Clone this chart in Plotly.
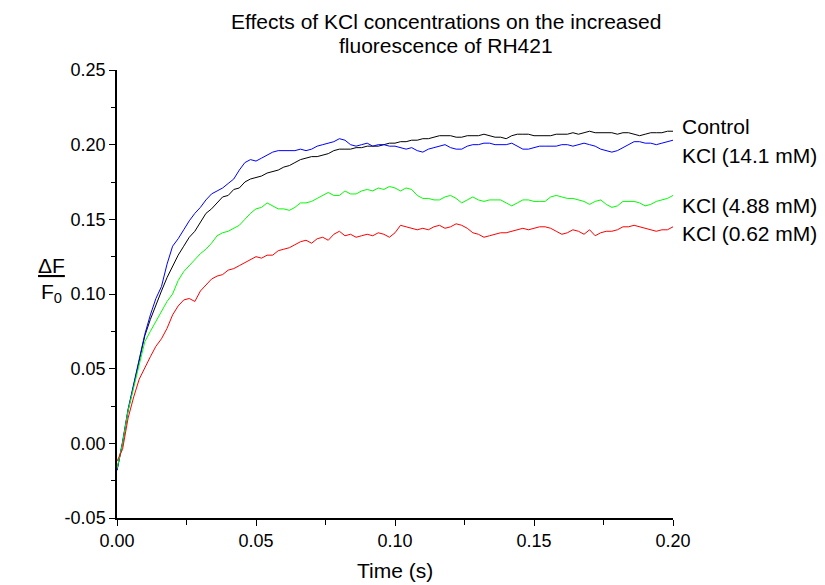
import plotly.graph_objects as go

# time axis (s)
time_s = [round(i * 0.002, 3) for i in range(101)]

control = [-0.018, 0.000, 0.022, 0.039, 0.056, 0.072, 0.083, 0.093, 0.102, 0.111,
           0.119, 0.126, 0.132, 0.138, 0.142, 0.148, 0.154, 0.157, 0.161, 0.165,
           0.166, 0.170, 0.171, 0.175, 0.177, 0.178, 0.179, 0.181, 0.182, 0.183,
           0.185, 0.186, 0.188, 0.190, 0.191, 0.192, 0.192, 0.193, 0.194, 0.196,
           0.197, 0.197, 0.197, 0.198, 0.198, 0.199, 0.199, 0.199, 0.200, 0.201,
           0.201, 0.202, 0.202, 0.203, 0.203, 0.204, 0.204, 0.205, 0.206, 0.206,
           0.206, 0.205, 0.205, 0.206, 0.206, 0.206, 0.207, 0.206, 0.205, 0.205,
           0.204, 0.206, 0.207, 0.207, 0.207, 0.206, 0.206, 0.206, 0.206, 0.207,
           0.207, 0.207, 0.208, 0.207, 0.208, 0.209, 0.208, 0.208, 0.208, 0.208,
           0.207, 0.208, 0.208, 0.207, 0.206, 0.207, 0.208, 0.208, 0.208, 0.209,
           0.209]

kcl_14_1 = [-0.018, 0.001, 0.023, 0.040, 0.057, 0.073, 0.086, 0.097, 0.105, 0.120,
            0.132, 0.137, 0.143, 0.149, 0.154, 0.158, 0.163, 0.167, 0.169, 0.171,
            0.174, 0.177, 0.183, 0.188, 0.190, 0.189, 0.191, 0.193, 0.195, 0.196,
            0.196, 0.196, 0.196, 0.197, 0.196, 0.197, 0.199, 0.200, 0.201, 0.202,
            0.204, 0.203, 0.200, 0.199, 0.200, 0.201, 0.199, 0.200, 0.200, 0.199,
            0.199, 0.198, 0.197, 0.198, 0.196, 0.195, 0.197, 0.198, 0.199, 0.200,
            0.198, 0.197, 0.197, 0.199, 0.200, 0.200, 0.201, 0.201, 0.200, 0.200,
            0.200, 0.201, 0.199, 0.197, 0.197, 0.198, 0.199, 0.199, 0.199, 0.199,
            0.200, 0.200, 0.199, 0.200, 0.201, 0.200, 0.199, 0.197, 0.196, 0.195,
            0.196, 0.198, 0.200, 0.202, 0.202, 0.201, 0.201, 0.200, 0.201, 0.202,
            0.203]

kcl_4_88 = [-0.017, 0.000, 0.022, 0.038, 0.054, 0.068, 0.075, 0.082, 0.088, 0.095,
            0.100, 0.109, 0.115, 0.119, 0.123, 0.127, 0.130, 0.134, 0.139, 0.141,
            0.142, 0.144, 0.146, 0.150, 0.154, 0.157, 0.158, 0.161, 0.159, 0.157,
            0.157, 0.156, 0.158, 0.161, 0.161, 0.162, 0.164, 0.166, 0.168, 0.166,
            0.166, 0.169, 0.167, 0.167, 0.169, 0.170, 0.169, 0.171, 0.170, 0.172,
            0.171, 0.169, 0.171, 0.170, 0.166, 0.164, 0.164, 0.163, 0.163, 0.165,
            0.166, 0.164, 0.161, 0.163, 0.165, 0.163, 0.162, 0.163, 0.163, 0.163,
            0.161, 0.159, 0.161, 0.163, 0.163, 0.162, 0.162, 0.162, 0.165, 0.166,
            0.165, 0.164, 0.164, 0.163, 0.162, 0.160, 0.162, 0.163, 0.160, 0.158,
            0.159, 0.162, 0.162, 0.162, 0.161, 0.159, 0.160, 0.162, 0.163, 0.164,
            0.166]

kcl_0_62 = [-0.012, -0.004, 0.017, 0.031, 0.043, 0.051, 0.058, 0.065, 0.070, 0.077,
            0.086, 0.092, 0.096, 0.097, 0.095, 0.102, 0.106, 0.110, 0.112, 0.113,
            0.116, 0.117, 0.119, 0.121, 0.123, 0.125, 0.124, 0.126, 0.126, 0.129,
            0.130, 0.131, 0.133, 0.135, 0.136, 0.134, 0.137, 0.138, 0.136, 0.140,
            0.142, 0.139, 0.140, 0.138, 0.139, 0.140, 0.139, 0.141, 0.140, 0.138,
            0.141, 0.146, 0.145, 0.144, 0.143, 0.144, 0.143, 0.145, 0.146, 0.144,
            0.145, 0.147, 0.146, 0.144, 0.141, 0.140, 0.138, 0.139, 0.140, 0.141,
            0.141, 0.142, 0.143, 0.144, 0.143, 0.144, 0.145, 0.145, 0.144, 0.142,
            0.140, 0.141, 0.143, 0.142, 0.140, 0.143, 0.139, 0.141, 0.142, 0.142,
            0.143, 0.145, 0.145, 0.146, 0.145, 0.144, 0.143, 0.142, 0.143, 0.143,
            0.145]

series_names = ["Control", "KCl (14.1 mM)", "KCl (4.88 mM)", "KCl (0.62 mM)"]
series_values = [control, kcl_14_1, kcl_4_88, kcl_0_62]
series_colors = ["#000000", "#0000ff", "#00ff00", "#ff0000"]
label_y = [0.2125, 0.1925, 0.159, 0.1405]

x_ticks = [0.00, 0.05, 0.10, 0.15, 0.20]
x_tick_text = ["0.00", "0.05", "0.10", "0.15", "0.20"]
y_ticks = [-0.05, 0.00, 0.05, 0.10, 0.15, 0.20, 0.25]
y_tick_text = ["-0.05", "0.00", "0.05", "0.10", "0.15", "0.20", "0.25"]

title_lines = ["Effects of KCl concentrations on the increased", "fluorescence of RH421"]

FONT = "Liberation Sans, Arial, Helvetica, sans-serif"
PLOT_H = 448.0

fig = go.Figure()
for name, vals, col in zip(series_names, series_values, series_colors):
    fig.add_trace(go.Scatter(x=time_s, y=vals, mode="lines", name=name,
                             line=dict(color=col, width=1), showlegend=False))

for name, ly in zip(series_names, label_y):
    fig.add_annotation(x=time_s[-1], y=ly, xref="x", yref="y", text=name,
                       showarrow=False, xanchor="left", yanchor="middle", xshift=7,
                       font=dict(family=FONT, size=21, color="#000000"))

# title (two lines, tight spacing like the reference)
for i, line in enumerate(title_lines):
    ypx = 22 + 23 * i
    fig.add_annotation(x=0.592, y=1 + (70 - ypx) / PLOT_H, xref="paper", yref="paper",
                       text=line, showarrow=False, xanchor="center", yanchor="middle",
                       font=dict(family=FONT, size=21, color="#000000"))

# y axis label: underlined ΔF over F0
fig.add_annotation(x=-(117 - 51) / 556.0, y=1 - (265 - 70) / PLOT_H, xref="paper", yref="paper",
                   text="<u>ΔF</u>", showarrow=False, xanchor="center", yanchor="middle",
                   font=dict(family=FONT, size=21, color="#000000"))
fig.add_annotation(x=-(117 - 51) / 556.0, y=1 - (293 - 70) / PLOT_H, xref="paper", yref="paper",
                   text="F<sub>0</sub>", showarrow=False, xanchor="center", yanchor="middle",
                   font=dict(family=FONT, size=21, color="#000000"))

# x axis title
fig.add_annotation(x=0.5, y=-(570 - 518) / PLOT_H, xref="paper", yref="paper",
                   text="Time (s)", showarrow=False, xanchor="center", yanchor="middle",
                   font=dict(family=FONT, size=21, color="#000000"))

fig.update_layout(
    width=825, height=585,
    margin=dict(l=117, r=152, t=70, b=67),
    paper_bgcolor="white", plot_bgcolor="white",
    font=dict(family=FONT, size=18, color="#000000"),
)
fig.update_xaxes(range=[0, 0.2], tickvals=x_ticks, ticktext=x_tick_text,
                 showgrid=False, zeroline=False, showline=True, linecolor="black",
                 linewidth=1.5, ticks="outside", ticklen=6, tickwidth=1.2,
                 tickcolor="black", tickfont=dict(size=18),
                 minor=dict(dtick=0.025, tick0=0, ticks="outside", ticklen=5,
                            tickwidth=1, tickcolor="black", showgrid=False))
fig.update_yaxes(range=[-0.05, 0.25], tickvals=y_ticks, ticktext=y_tick_text,
                 showgrid=False, zeroline=False, showline=True, linecolor="black",
                 linewidth=1.5, ticks="outside", ticklen=6, tickwidth=1.2,
                 tickcolor="black", tickfont=dict(size=18),
                 minor=dict(dtick=0.025, tick0=0, ticks="outside", ticklen=4,
                            tickwidth=1, tickcolor="black", showgrid=False))

fig.write_html("out.html")
